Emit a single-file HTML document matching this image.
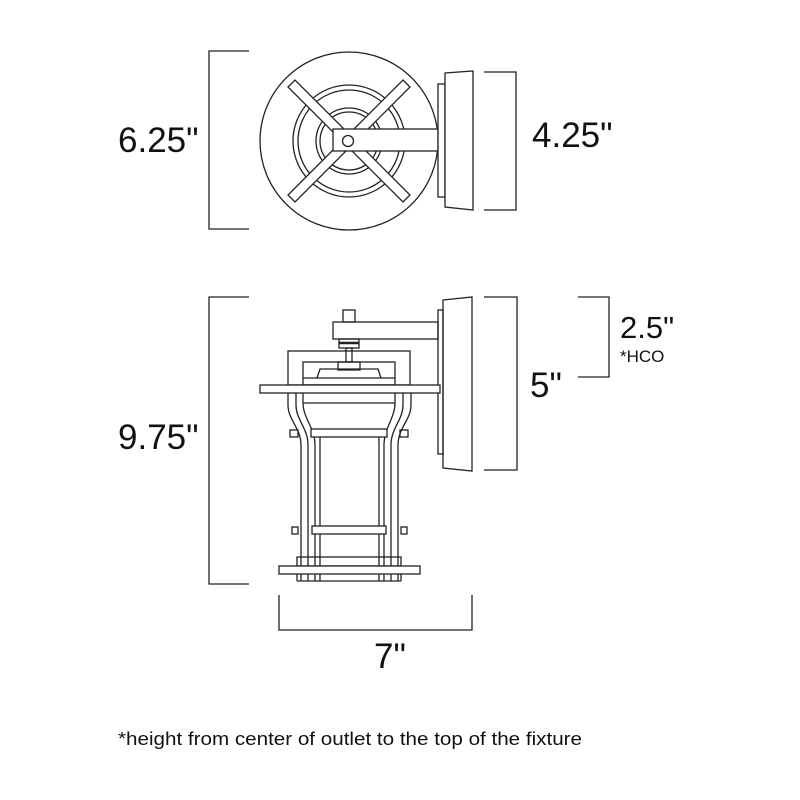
<!DOCTYPE html>
<html><head><meta charset="utf-8"><style>
html,body{margin:0;padding:0;background:#fff;}
svg{display:block;}
text{font-family:"Liberation Sans",sans-serif;fill:#111;}
</style></head><body>
<svg width="800" height="800" viewBox="0 0 800 800" xmlns="http://www.w3.org/2000/svg">
<g fill="none" stroke="#222" stroke-width="1.3">
<!-- top view -->
<polyline points="249,51 209,51 209,229 249,229"/>
<polyline points="484,72 516,72 516,210 484,210"/>
<circle cx="349" cy="141" r="89" fill="#fff"/>
<circle cx="349" cy="141" r="56"/>
<circle cx="349" cy="141" r="51"/>
<circle cx="349" cy="141" r="33"/>
<circle cx="349" cy="141" r="29"/>
<g fill="#fff">
<polygon points="288,87 295,80 410,195 403,202"/>
<polygon points="403,80 410,87 295,202 288,195"/>
</g>
<rect x="333" y="129" width="105" height="22" fill="#fff"/>
<circle cx="348" cy="141" r="5.5"/>
<rect x="438" y="84" width="7" height="113" fill="#fff"/>
<polygon points="445,73 473,71 473,210 445,207" fill="#fff"/>

<!-- side view dims -->
<polyline points="249,297 209,297 209,584 249,584"/>
<polyline points="484,297 517,297 517,470 484,470"/>
<polyline points="578,297 609,297 609,377 578,377"/>
<polyline points="279,595 279,630 472,630 472,595"/>

<!-- side view fixture -->
<rect x="438" y="310" width="5" height="144"/>
<polygon points="443,300 472,297 472,471 443,468"/>
<rect x="343" y="310" width="12" height="12"/>
<rect x="333" y="322" width="105" height="17"/>
<rect x="339" y="339" width="20" height="9"/>
<line x1="339" y1="343" x2="359" y2="343" stroke-width="2.5"/>
<rect x="346" y="348" width="6" height="14"/>
<rect x="288" y="351" width="122" height="34"/>
<rect x="303" y="362" width="92" height="23"/>
<rect x="338" y="362" width="22" height="8"/>
<polyline points="317,378 320,369 378,369 381,378"/>
<line x1="303" y1="378" x2="395" y2="378"/>
<rect x="260" y="385" width="180" height="8" fill="#fff"/>
<!-- legs -->
<path d="M288,393 L288,405 C288,420 301,428 301,445 L301,581"/>
<path d="M296,393 L296,405 C296,420 308,428 308,445 L308,581"/>
<path d="M303,393 L303,403 C303,418 315,428 315,445 L315,581"/>
<path d="M411,393 L411,405 C411,420 398,428 398,445 L398,581"/>
<path d="M403,393 L403,405 C403,420 391,428 391,445 L391,581"/>
<path d="M395,393 L395,403 C395,418 384,428 384,445 L384,581"/>
<line x1="303" y1="403" x2="395" y2="403"/>
<line x1="320" y1="437" x2="320" y2="581"/>
<line x1="379" y1="437" x2="379" y2="581"/>
<!-- rings -->
<rect x="290" y="430" width="8" height="7"/>
<rect x="400" y="430" width="8" height="7"/>
<rect x="311" y="429" width="76" height="8" fill="#fff"/>
<rect x="292" y="527" width="6" height="7"/>
<rect x="401" y="527" width="6" height="7"/>
<rect x="312" y="526" width="74" height="8" fill="#fff"/>
<rect x="297" y="557" width="104" height="9"/>
<rect x="279" y="566" width="141" height="8" fill="#fff"/>
<line x1="297" y1="574" x2="297" y2="581"/>
<line x1="401" y1="574" x2="401" y2="581"/>
<line x1="297" y1="581" x2="401" y2="581"/>
</g>
<text x="118" y="152" font-size="35">6.25"</text>
<text x="532" y="147" font-size="35">4.25"</text>
<text x="118" y="449" font-size="35">9.75"</text>
<text x="530" y="397" font-size="35">5"</text>
<text x="620" y="338" font-size="31">2.5"</text>
<text x="620" y="362" font-size="17">*HCO</text>
<text x="374" y="668" font-size="35">7"</text>
<text x="118" y="745" font-size="18" textLength="464" lengthAdjust="spacingAndGlyphs">*height from center of outlet to the top of the fixture</text>
</svg>
</body></html>
